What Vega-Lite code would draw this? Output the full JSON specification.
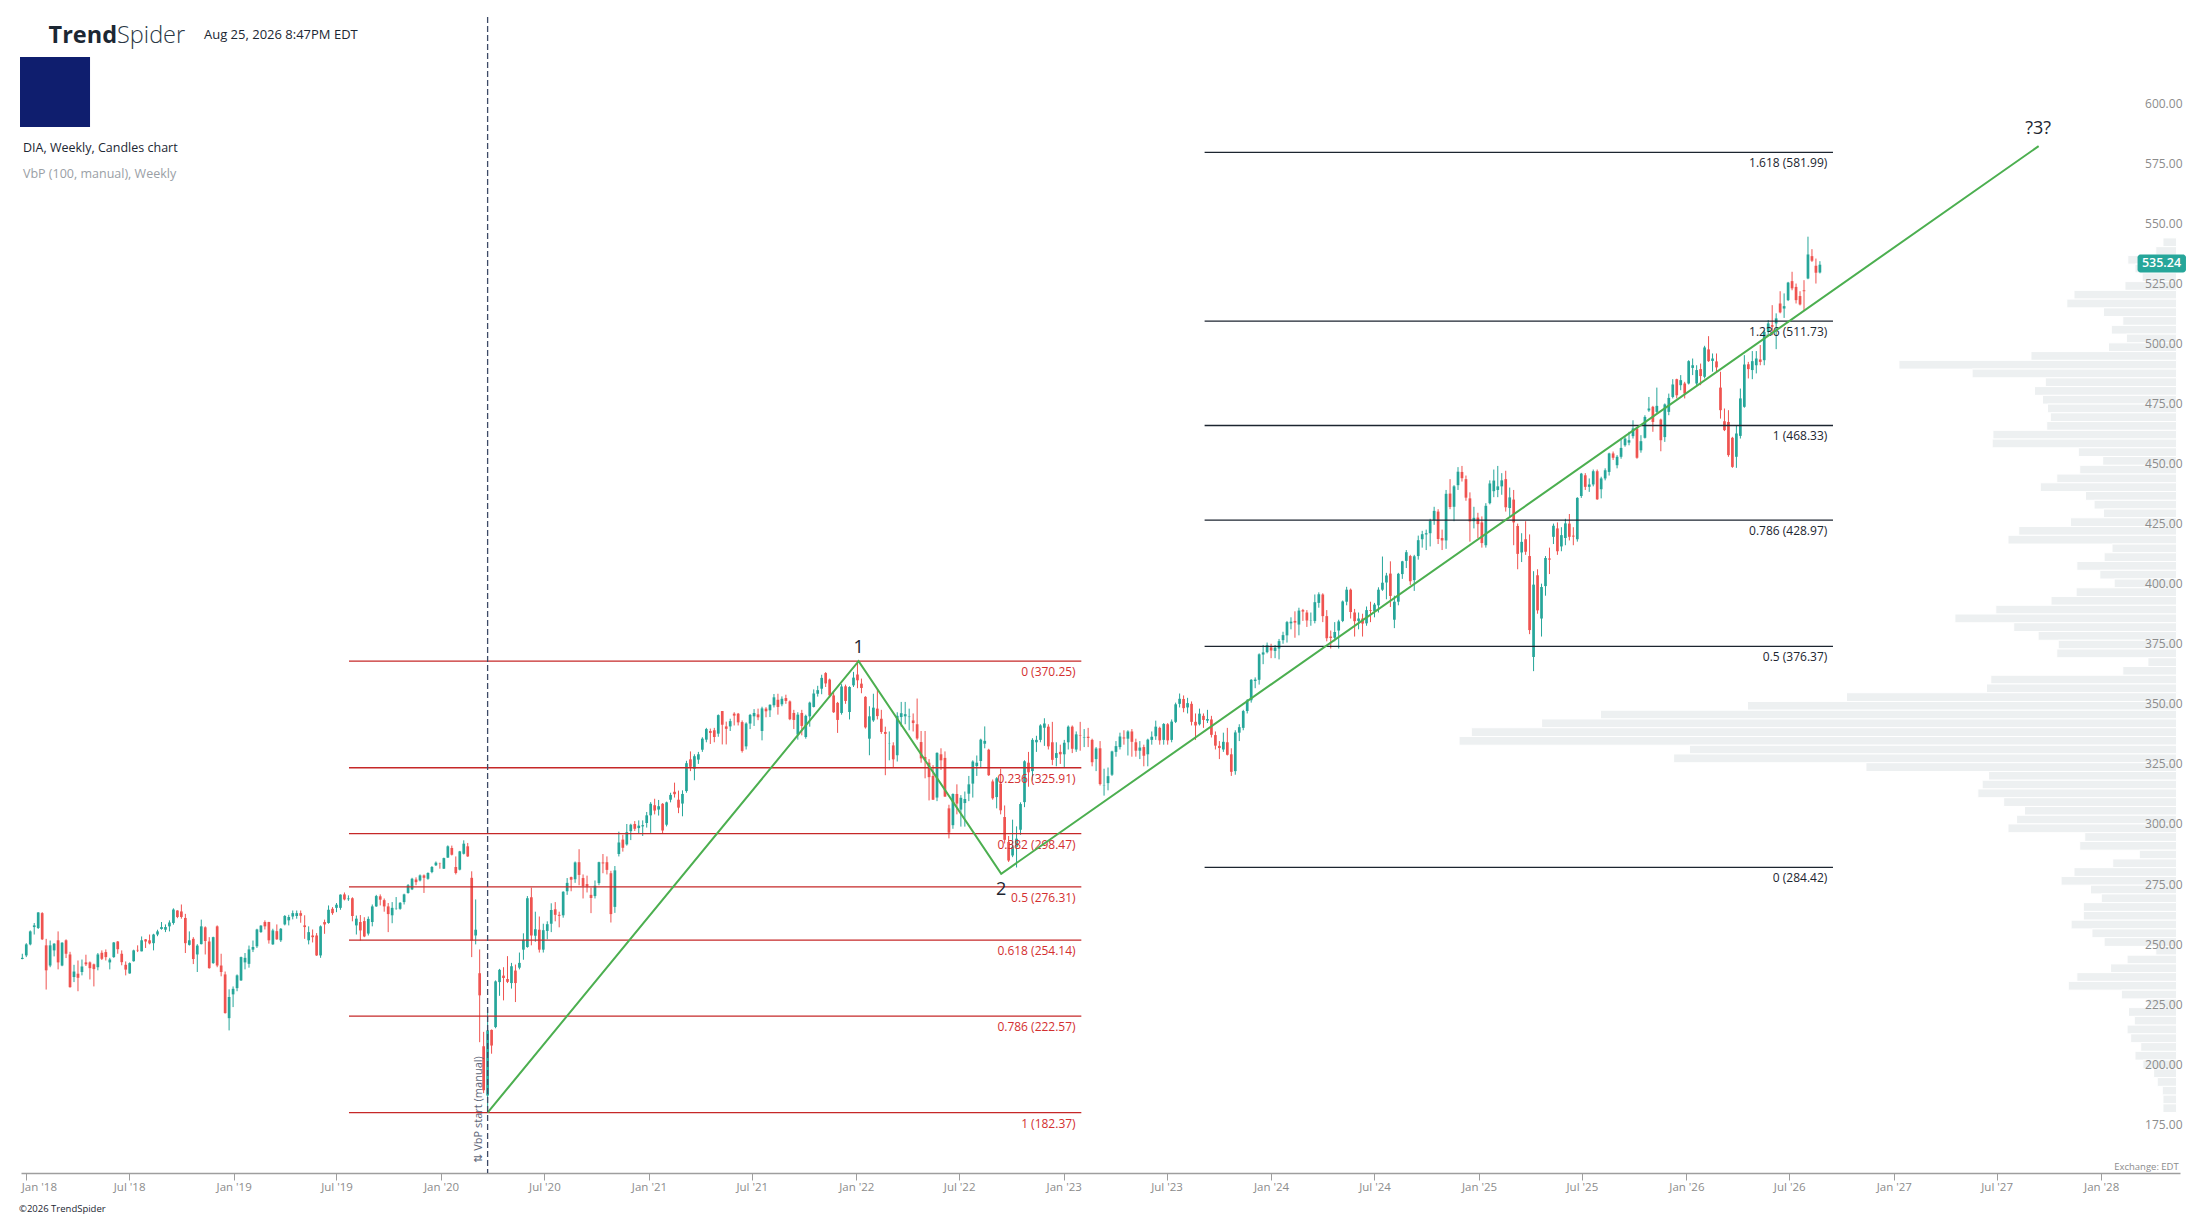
{
"$schema":"https://vega.github.io/schema/vega-lite/v6.json",
"width":2159,"height":1156,
"autosize":{"type":"none"},
"padding":{"left":21,"top":17,"right":27,"bottom":46},
"background":"white",
"config":{"view":{"stroke":null},"font":"Open Sans","scale":{"continuousPadding":0}},
"datasets":{
"candles":[
{"d":"2017-12-25","o":246.3,"h":248.5,"l":246.2,"c":246.8},
{"d":"2018-01-01","o":247.8,"h":252.9,"l":247.1,"c":252.4},
{"d":"2018-01-08","o":252.4,"h":258.2,"l":252.0,"c":257.8},
{"d":"2018-01-15","o":259.6,"h":261.3,"l":256.5,"c":260.3},
{"d":"2018-01-22","o":259.2,"h":265.8,"l":258.8,"c":265.7},
{"d":"2018-01-29","o":265.4,"h":265.8,"l":254.2,"c":254.5},
{"d":"2018-02-05","o":252.0,"h":254.7,"l":233.6,"c":241.6},
{"d":"2018-02-12","o":243.6,"h":254.0,"l":242.9,"c":252.0},
{"d":"2018-02-19","o":249.9,"h":252.9,"l":247.4,"c":252.7},
{"d":"2018-02-26","o":254.1,"h":257.8,"l":242.0,"c":244.9},
{"d":"2018-03-05","o":243.6,"h":253.3,"l":243.3,"c":253.1},
{"d":"2018-03-12","o":254.1,"h":254.5,"l":246.7,"c":248.5},
{"d":"2018-03-19","o":248.2,"h":249.3,"l":234.4,"c":234.6},
{"d":"2018-03-26","o":238.8,"h":243.9,"l":236.7,"c":241.1},
{"d":"2018-04-02","o":240.2,"h":245.7,"l":232.9,"c":238.5},
{"d":"2018-04-09","o":240.9,"h":246.1,"l":239.5,"c":243.2},
{"d":"2018-04-16","o":244.9,"h":248.1,"l":243.4,"c":244.1},
{"d":"2018-04-23","o":244.9,"h":245.3,"l":237.8,"c":242.5},
{"d":"2018-04-30","o":244.1,"h":244.4,"l":234.9,"c":242.1},
{"d":"2018-05-07","o":242.9,"h":248.8,"l":241.6,"c":248.2},
{"d":"2018-05-14","o":248.9,"h":249.9,"l":245.9,"c":246.4},
{"d":"2018-05-21","o":249.2,"h":250.3,"l":245.7,"c":247.1},
{"d":"2018-05-28","o":244.9,"h":246.8,"l":242.0,"c":246.1},
{"d":"2018-06-04","o":247.1,"h":253.4,"l":246.8,"c":253.2},
{"d":"2018-06-11","o":253.6,"h":253.8,"l":248.5,"c":250.4},
{"d":"2018-06-18","o":248.5,"h":249.9,"l":243.7,"c":245.0},
{"d":"2018-06-25","o":243.9,"h":245.3,"l":239.5,"c":241.9},
{"d":"2018-07-02","o":240.3,"h":244.9,"l":240.2,"c":244.6},
{"d":"2018-07-09","o":245.4,"h":250.2,"l":245.2,"c":249.9},
{"d":"2018-07-16","o":250.1,"h":252.0,"l":249.2,"c":249.9},
{"d":"2018-07-23","o":249.5,"h":255.7,"l":249.5,"c":254.1},
{"d":"2018-07-30","o":254.5,"h":254.6,"l":250.9,"c":253.6},
{"d":"2018-08-06","o":254.1,"h":256.5,"l":252.4,"c":252.8},
{"d":"2018-08-13","o":252.9,"h":256.8,"l":249.9,"c":256.5},
{"d":"2018-08-20","o":256.5,"h":258.5,"l":255.8,"c":257.8},
{"d":"2018-08-27","o":258.8,"h":261.7,"l":258.5,"c":259.6},
{"d":"2018-09-03","o":258.5,"h":260.7,"l":257.5,"c":259.6},
{"d":"2018-09-10","o":259.9,"h":262.4,"l":257.8,"c":261.5},
{"d":"2018-09-17","o":261.3,"h":267.4,"l":260.6,"c":266.9},
{"d":"2018-09-24","o":266.5,"h":266.6,"l":263.3,"c":263.8},
{"d":"2018-10-01","o":266.1,"h":269.0,"l":263.1,"c":263.8},
{"d":"2018-10-08","o":263.4,"h":265.1,"l":248.8,"c":252.9},
{"d":"2018-10-15","o":252.2,"h":257.8,"l":251.9,"c":254.1},
{"d":"2018-10-22","o":254.7,"h":255.4,"l":244.2,"c":246.3},
{"d":"2018-10-29","o":248.2,"h":252.5,"l":240.9,"c":251.9},
{"d":"2018-11-05","o":252.5,"h":262.7,"l":252.4,"c":259.9},
{"d":"2018-11-12","o":259.5,"h":259.9,"l":248.2,"c":253.8},
{"d":"2018-11-19","o":253.6,"h":255.4,"l":242.3,"c":242.5},
{"d":"2018-11-26","o":244.6,"h":255.6,"l":244.3,"c":255.4},
{"d":"2018-12-03","o":259.9,"h":260.3,"l":242.9,"c":243.6},
{"d":"2018-12-10","o":243.6,"h":248.5,"l":239.1,"c":240.9},
{"d":"2018-12-17","o":239.9,"h":241.1,"l":223.6,"c":223.8},
{"d":"2018-12-24","o":221.7,"h":233.7,"l":216.6,"c":230.5},
{"d":"2018-12-31","o":231.6,"h":234.9,"l":226.3,"c":233.9},
{"d":"2019-01-07","o":234.2,"h":239.9,"l":232.9,"c":239.5},
{"d":"2019-01-14","o":237.4,"h":247.3,"l":237.2,"c":247.1},
{"d":"2019-01-21","o":244.9,"h":248.8,"l":242.0,"c":246.8},
{"d":"2019-01-28","o":244.3,"h":251.9,"l":242.7,"c":250.3},
{"d":"2019-02-04","o":250.2,"h":254.0,"l":249.2,"c":251.3},
{"d":"2019-02-11","o":251.6,"h":258.9,"l":250.9,"c":258.6},
{"d":"2019-02-18","o":257.5,"h":260.4,"l":257.2,"c":260.2},
{"d":"2019-02-25","o":261.7,"h":262.4,"l":258.6,"c":259.9},
{"d":"2019-03-04","o":261.7,"h":261.8,"l":252.7,"c":254.1},
{"d":"2019-03-11","o":252.4,"h":258.9,"l":252.2,"c":258.2},
{"d":"2019-03-18","o":257.9,"h":260.7,"l":254.3,"c":254.5},
{"d":"2019-03-25","o":254.1,"h":259.2,"l":253.4,"c":258.9},
{"d":"2019-04-01","o":260.7,"h":264.6,"l":260.3,"c":264.2},
{"d":"2019-04-08","o":262.4,"h":264.7,"l":260.3,"c":263.8},
{"d":"2019-04-15","o":264.0,"h":266.5,"l":262.8,"c":265.4},
{"d":"2019-04-22","o":264.2,"h":266.5,"l":263.1,"c":265.4},
{"d":"2019-04-29","o":265.4,"h":266.5,"l":261.4,"c":264.3},
{"d":"2019-05-06","o":260.3,"h":264.5,"l":254.7,"c":259.6},
{"d":"2019-05-13","o":254.1,"h":259.9,"l":252.4,"c":257.5},
{"d":"2019-05-20","o":256.1,"h":258.6,"l":253.2,"c":255.4},
{"d":"2019-05-27","o":256.1,"h":257.1,"l":247.6,"c":247.8},
{"d":"2019-06-03","o":247.8,"h":260.3,"l":246.8,"c":259.9},
{"d":"2019-06-10","o":261.7,"h":262.7,"l":256.8,"c":260.7},
{"d":"2019-06-17","o":261.3,"h":268.6,"l":261.0,"c":266.8},
{"d":"2019-06-24","o":267.2,"h":267.9,"l":264.7,"c":265.4},
{"d":"2019-07-01","o":267.6,"h":269.6,"l":265.8,"c":268.9},
{"d":"2019-07-08","o":267.6,"h":273.2,"l":266.8,"c":273.1},
{"d":"2019-07-15","o":273.2,"h":274.0,"l":270.7,"c":271.1},
{"d":"2019-07-22","o":271.2,"h":272.8,"l":270.5,"c":271.5},
{"d":"2019-07-29","o":271.6,"h":272.0,"l":262.0,"c":264.2},
{"d":"2019-08-05","o":260.3,"h":264.4,"l":256.5,"c":263.1},
{"d":"2019-08-12","o":261.7,"h":264.6,"l":254.0,"c":258.2},
{"d":"2019-08-19","o":262.1,"h":263.7,"l":255.4,"c":255.7},
{"d":"2019-08-26","o":256.9,"h":264.0,"l":256.1,"c":263.0},
{"d":"2019-09-02","o":261.7,"h":269.0,"l":259.9,"c":268.2},
{"d":"2019-09-09","o":268.2,"h":273.0,"l":268.0,"c":272.5},
{"d":"2019-09-16","o":272.4,"h":273.2,"l":268.6,"c":271.0},
{"d":"2019-09-23","o":270.8,"h":271.5,"l":266.0,"c":268.2},
{"d":"2019-09-30","o":268.2,"h":269.6,"l":257.5,"c":265.0},
{"d":"2019-10-07","o":264.5,"h":270.0,"l":261.2,"c":267.6},
{"d":"2019-10-14","o":267.2,"h":272.1,"l":266.8,"c":267.3},
{"d":"2019-10-21","o":267.2,"h":270.0,"l":266.8,"c":269.7},
{"d":"2019-10-28","o":270.0,"h":273.5,"l":269.0,"c":273.2},
{"d":"2019-11-04","o":273.8,"h":277.5,"l":273.5,"c":277.0},
{"d":"2019-11-11","o":275.3,"h":280.1,"l":275.0,"c":279.7},
{"d":"2019-11-18","o":279.4,"h":280.3,"l":277.0,"c":278.3},
{"d":"2019-11-25","o":279.0,"h":281.5,"l":278.6,"c":281.1},
{"d":"2019-12-02","o":281.1,"h":281.5,"l":273.8,"c":280.1},
{"d":"2019-12-09","o":279.7,"h":282.4,"l":279.3,"c":282.1},
{"d":"2019-12-16","o":282.5,"h":285.0,"l":282.0,"c":284.6},
{"d":"2019-12-23","o":285.3,"h":286.9,"l":285.0,"c":286.4},
{"d":"2019-12-30","o":286.2,"h":286.4,"l":283.9,"c":286.1},
{"d":"2020-01-06","o":283.9,"h":288.5,"l":283.8,"c":288.3},
{"d":"2020-01-13","o":288.5,"h":293.6,"l":288.4,"c":293.2},
{"d":"2020-01-20","o":292.5,"h":293.5,"l":289.4,"c":289.7},
{"d":"2020-01-27","o":284.6,"h":289.0,"l":281.5,"c":282.1},
{"d":"2020-02-03","o":283.5,"h":291.3,"l":283.2,"c":291.1},
{"d":"2020-02-10","o":290.1,"h":295.7,"l":289.8,"c":294.3},
{"d":"2020-02-17","o":293.2,"h":294.6,"l":288.8,"c":289.0},
{"d":"2020-02-24","o":280.1,"h":282.8,"l":247.1,"c":254.0},
{"d":"2020-03-02","o":256.1,"h":271.1,"l":252.4,"c":258.5},
{"d":"2020-03-09","o":240.4,"h":250.3,"l":211.7,"c":231.2},
{"d":"2020-03-16","o":210.0,"h":216.0,"l":190.5,"c":191.7},
{"d":"2020-03-23","o":189.5,"h":225.6,"l":182.37,"c":216.6},
{"d":"2020-03-30","o":216.8,"h":217.0,"l":206.9,"c":210.3},
{"d":"2020-04-06","o":218.0,"h":237.4,"l":217.5,"c":237.0},
{"d":"2020-04-13","o":236.7,"h":242.2,"l":231.0,"c":241.8},
{"d":"2020-04-20","o":239.4,"h":242.9,"l":229.1,"c":238.4},
{"d":"2020-04-27","o":238.0,"h":247.5,"l":236.3,"c":236.8},
{"d":"2020-05-04","o":236.3,"h":244.7,"l":234.0,"c":243.3},
{"d":"2020-05-11","o":241.5,"h":244.0,"l":228.4,"c":236.3},
{"d":"2020-05-18","o":242.7,"h":249.0,"l":242.0,"c":244.7},
{"d":"2020-05-25","o":250.2,"h":257.0,"l":246.0,"c":254.3},
{"d":"2020-06-01","o":251.3,"h":272.5,"l":251.0,"c":271.6},
{"d":"2020-06-08","o":272.0,"h":276.0,"l":252.0,"c":256.1},
{"d":"2020-06-15","o":256.0,"h":266.0,"l":253.5,"c":258.7},
{"d":"2020-06-22","o":258.5,"h":264.0,"l":249.0,"c":250.2},
{"d":"2020-06-29","o":250.2,"h":261.0,"l":249.0,"c":258.3},
{"d":"2020-07-06","o":258.0,"h":262.0,"l":254.5,"c":260.8},
{"d":"2020-07-13","o":261.0,"h":269.5,"l":257.5,"c":266.7},
{"d":"2020-07-20","o":267.0,"h":270.0,"l":262.0,"c":264.7},
{"d":"2020-07-27","o":264.7,"h":266.0,"l":259.5,"c":264.3},
{"d":"2020-08-03","o":264.5,"h":274.5,"l":263.5,"c":274.3},
{"d":"2020-08-10","o":274.5,"h":280.0,"l":273.0,"c":278.0},
{"d":"2020-08-17","o":280.4,"h":280.6,"l":274.5,"c":279.3},
{"d":"2020-08-24","o":279.5,"h":286.9,"l":278.0,"c":286.5},
{"d":"2020-08-31","o":286.6,"h":292.0,"l":277.0,"c":281.3},
{"d":"2020-09-07","o":280.0,"h":281.5,"l":271.5,"c":276.7},
{"d":"2020-09-14","o":277.5,"h":281.0,"l":274.0,"c":276.6},
{"d":"2020-09-21","o":273.0,"h":276.0,"l":265.4,"c":271.7},
{"d":"2020-09-28","o":272.5,"h":279.0,"l":271.5,"c":276.8},
{"d":"2020-10-05","o":277.9,"h":286.8,"l":277.0,"c":286.6},
{"d":"2020-10-12","o":286.5,"h":290.0,"l":282.0,"c":286.1},
{"d":"2020-10-19","o":286.6,"h":289.0,"l":281.5,"c":283.4},
{"d":"2020-10-26","o":282.0,"h":283.0,"l":261.5,"c":265.0},
{"d":"2020-11-02","o":268.0,"h":285.0,"l":265.5,"c":283.2},
{"d":"2020-11-09","o":290.0,"h":299.3,"l":289.0,"c":294.8},
{"d":"2020-11-16","o":296.0,"h":298.0,"l":291.0,"c":292.6},
{"d":"2020-11-23","o":294.0,"h":302.5,"l":293.5,"c":299.1},
{"d":"2020-11-30","o":299.5,"h":302.6,"l":295.8,"c":302.2},
{"d":"2020-12-07","o":302.5,"h":303.7,"l":299.6,"c":300.5},
{"d":"2020-12-14","o":300.8,"h":304.0,"l":298.5,"c":301.8},
{"d":"2020-12-21","o":301.5,"h":304.0,"l":297.5,"c":302.0},
{"d":"2020-12-28","o":302.9,"h":307.5,"l":301.0,"c":306.1},
{"d":"2021-01-04","o":306.1,"h":311.6,"l":298.8,"c":310.9},
{"d":"2021-01-11","o":310.3,"h":313.0,"l":306.5,"c":308.1},
{"d":"2021-01-18","o":308.5,"h":312.5,"l":306.0,"c":309.9},
{"d":"2021-01-25","o":310.9,"h":311.2,"l":298.7,"c":299.8},
{"d":"2021-02-01","o":302.2,"h":311.8,"l":301.5,"c":311.5},
{"d":"2021-02-08","o":312.6,"h":315.5,"l":311.5,"c":314.6},
{"d":"2021-02-15","o":315.9,"h":319.7,"l":313.5,"c":314.9},
{"d":"2021-02-22","o":312.6,"h":316.4,"l":307.0,"c":309.3},
{"d":"2021-03-01","o":311.0,"h":316.5,"l":305.7,"c":315.0},
{"d":"2021-03-08","o":316.2,"h":328.8,"l":315.5,"c":327.8},
{"d":"2021-03-15","o":329.4,"h":332.7,"l":324.5,"c":326.3},
{"d":"2021-03-22","o":325.5,"h":331.5,"l":320.7,"c":330.7},
{"d":"2021-03-29","o":329.3,"h":332.5,"l":327.5,"c":331.5},
{"d":"2021-04-05","o":333.4,"h":338.6,"l":332.5,"c":338.0},
{"d":"2021-04-12","o":337.6,"h":342.5,"l":336.5,"c":342.0},
{"d":"2021-04-19","o":341.2,"h":342.2,"l":335.8,"c":340.4},
{"d":"2021-04-26","o":341.5,"h":342.5,"l":336.5,"c":338.7},
{"d":"2021-05-03","o":340.1,"h":348.1,"l":338.8,"c":347.8},
{"d":"2021-05-10","o":349.5,"h":349.5,"l":335.6,"c":343.8},
{"d":"2021-05-17","o":343.1,"h":345.1,"l":335.6,"c":342.1},
{"d":"2021-05-24","o":343.1,"h":346.3,"l":341.2,"c":345.3},
{"d":"2021-05-31","o":348.4,"h":349.0,"l":343.5,"c":347.6},
{"d":"2021-06-07","o":348.4,"h":348.7,"l":343.5,"c":344.8},
{"d":"2021-06-14","o":344.9,"h":345.6,"l":332.2,"c":332.9},
{"d":"2021-06-21","o":334.8,"h":344.8,"l":333.5,"c":344.3},
{"d":"2021-06-28","o":344.3,"h":348.3,"l":342.0,"c":347.9},
{"d":"2021-07-05","o":347.3,"h":350.3,"l":343.3,"c":348.7},
{"d":"2021-07-12","o":348.1,"h":350.5,"l":345.7,"c":346.9},
{"d":"2021-07-19","o":341.2,"h":351.3,"l":337.3,"c":350.6},
{"d":"2021-07-26","o":350.5,"h":351.1,"l":346.9,"c":349.4},
{"d":"2021-08-02","o":349.8,"h":352.3,"l":347.0,"c":352.1},
{"d":"2021-08-09","o":351.9,"h":356.6,"l":351.0,"c":355.2},
{"d":"2021-08-16","o":354.2,"h":356.7,"l":348.0,"c":351.2},
{"d":"2021-08-23","o":352.3,"h":355.6,"l":351.5,"c":354.6},
{"d":"2021-08-30","o":354.9,"h":356.3,"l":352.5,"c":353.7},
{"d":"2021-09-06","o":353.5,"h":353.9,"l":345.7,"c":346.1},
{"d":"2021-09-13","o":348.7,"h":350.0,"l":342.0,"c":345.8},
{"d":"2021-09-20","o":339.7,"h":349.0,"l":337.6,"c":348.0},
{"d":"2021-09-27","o":348.7,"h":350.0,"l":339.4,"c":343.3},
{"d":"2021-10-04","o":338.7,"h":348.0,"l":338.0,"c":347.5},
{"d":"2021-10-11","o":347.3,"h":353.4,"l":343.0,"c":353.0},
{"d":"2021-10-18","o":351.2,"h":358.5,"l":351.0,"c":356.8},
{"d":"2021-10-25","o":356.7,"h":360.0,"l":355.5,"c":358.2},
{"d":"2021-11-01","o":358.8,"h":364.6,"l":356.5,"c":363.3},
{"d":"2021-11-08","o":365.3,"h":365.7,"l":359.5,"c":361.0},
{"d":"2021-11-15","o":362.6,"h":363.0,"l":355.0,"c":356.0},
{"d":"2021-11-22","o":356.0,"h":357.4,"l":348.7,"c":349.0},
{"d":"2021-11-29","o":352.9,"h":353.3,"l":340.4,"c":345.8},
{"d":"2021-12-06","o":348.7,"h":360.7,"l":348.0,"c":359.7},
{"d":"2021-12-13","o":359.8,"h":360.5,"l":352.5,"c":353.7},
{"d":"2021-12-20","o":349.1,"h":359.8,"l":346.0,"c":359.5},
{"d":"2021-12-27","o":360.2,"h":365.8,"l":359.5,"c":363.4},
{"d":"2022-01-03","o":364.7,"h":370.25,"l":359.0,"c":362.3},
{"d":"2022-01-10","o":360.9,"h":363.0,"l":356.9,"c":359.1},
{"d":"2022-01-17","o":355.4,"h":355.7,"l":342.2,"c":342.7},
{"d":"2022-01-24","o":338.0,"h":351.5,"l":331.1,"c":347.3},
{"d":"2022-01-31","o":345.6,"h":356.7,"l":345.0,"c":350.9},
{"d":"2022-02-07","o":350.5,"h":358.5,"l":346.0,"c":347.4},
{"d":"2022-02-14","o":346.3,"h":350.0,"l":340.0,"c":340.8},
{"d":"2022-02-21","o":340.8,"h":343.0,"l":322.8,"c":340.0},
{"d":"2022-02-28","o":336.0,"h":341.0,"l":329.0,"c":336.1},
{"d":"2022-03-07","o":335.2,"h":336.5,"l":326.2,"c":329.4},
{"d":"2022-03-14","o":331.1,"h":349.0,"l":328.5,"c":347.5},
{"d":"2022-03-21","o":347.0,"h":353.3,"l":343.0,"c":348.6},
{"d":"2022-03-28","o":347.3,"h":353.3,"l":344.0,"c":348.2},
{"d":"2022-04-04","o":347.0,"h":350.5,"l":341.5,"c":347.2},
{"d":"2022-04-11","o":345.6,"h":348.5,"l":341.0,"c":344.5},
{"d":"2022-04-18","o":344.0,"h":354.7,"l":337.5,"c":338.1},
{"d":"2022-04-25","o":336.6,"h":341.2,"l":328.0,"c":329.8},
{"d":"2022-05-02","o":330.4,"h":341.2,"l":321.5,"c":329.0},
{"d":"2022-05-09","o":328.0,"h":329.5,"l":312.3,"c":322.0},
{"d":"2022-05-16","o":322.5,"h":327.0,"l":312.5,"c":312.6},
{"d":"2022-05-23","o":313.5,"h":332.3,"l":312.0,"c":332.1},
{"d":"2022-05-30","o":331.5,"h":334.0,"l":325.0,"c":329.0},
{"d":"2022-06-06","o":330.0,"h":332.7,"l":313.8,"c":313.9},
{"d":"2022-06-13","o":309.0,"h":310.5,"l":296.5,"c":298.9},
{"d":"2022-06-20","o":302.0,"h":315.2,"l":300.5,"c":315.0},
{"d":"2022-06-27","o":315.0,"h":319.0,"l":306.5,"c":311.0},
{"d":"2022-07-04","o":308.5,"h":314.5,"l":301.4,"c":313.4},
{"d":"2022-07-11","o":311.2,"h":316.0,"l":301.4,"c":312.9},
{"d":"2022-07-18","o":315.1,"h":322.5,"l":312.0,"c":319.0},
{"d":"2022-07-25","o":319.3,"h":329.0,"l":313.5,"c":328.5},
{"d":"2022-08-01","o":326.6,"h":331.0,"l":322.5,"c":328.0},
{"d":"2022-08-08","o":328.7,"h":338.0,"l":326.0,"c":337.6},
{"d":"2022-08-15","o":335.9,"h":343.1,"l":334.0,"c":337.1},
{"d":"2022-08-22","o":333.4,"h":333.8,"l":322.5,"c":322.8},
{"d":"2022-08-29","o":320.2,"h":321.0,"l":312.6,"c":313.2},
{"d":"2022-09-05","o":313.7,"h":322.0,"l":309.0,"c":321.5},
{"d":"2022-09-12","o":319.3,"h":325.5,"l":306.5,"c":308.2},
{"d":"2022-09-19","o":305.4,"h":310.2,"l":294.4,"c":295.9},
{"d":"2022-09-26","o":295.0,"h":297.5,"l":286.7,"c":287.3},
{"d":"2022-10-03","o":289.4,"h":304.3,"l":288.7,"c":293.0},
{"d":"2022-10-10","o":293.0,"h":301.5,"l":284.4,"c":296.4},
{"d":"2022-10-17","o":300.1,"h":311.5,"l":298.0,"c":310.8},
{"d":"2022-10-24","o":311.6,"h":329.0,"l":309.5,"c":328.6},
{"d":"2022-10-31","o":328.0,"h":332.5,"l":318.0,"c":324.0},
{"d":"2022-11-07","o":324.5,"h":338.2,"l":320.5,"c":337.5},
{"d":"2022-11-14","o":336.5,"h":339.2,"l":332.5,"c":337.5},
{"d":"2022-11-21","o":337.5,"h":344.0,"l":336.5,"c":343.5},
{"d":"2022-11-28","o":342.5,"h":346.5,"l":335.0,"c":344.3},
{"d":"2022-12-05","o":343.0,"h":344.0,"l":333.5,"c":334.8},
{"d":"2022-12-12","o":336.5,"h":345.0,"l":327.0,"c":329.2},
{"d":"2022-12-19","o":330.0,"h":336.5,"l":326.5,"c":332.0},
{"d":"2022-12-26","o":332.5,"h":335.5,"l":327.5,"c":331.5},
{"d":"2023-01-02","o":331.5,"h":337.5,"l":326.0,"c":336.3},
{"d":"2023-01-09","o":336.5,"h":343.5,"l":333.5,"c":343.0},
{"d":"2023-01-16","o":343.0,"h":343.5,"l":332.0,"c":333.8},
{"d":"2023-01-23","o":333.5,"h":341.0,"l":332.5,"c":339.8},
{"d":"2023-01-30","o":339.5,"h":345.0,"l":333.0,"c":339.3},
{"d":"2023-02-06","o":338.5,"h":342.0,"l":334.5,"c":338.7},
{"d":"2023-02-13","o":338.8,"h":342.5,"l":334.5,"c":338.3},
{"d":"2023-02-20","o":337.5,"h":338.0,"l":326.5,"c":328.2},
{"d":"2023-02-27","o":329.5,"h":334.5,"l":324.5,"c":333.9},
{"d":"2023-03-06","o":334.0,"h":337.0,"l":318.5,"c":319.1},
{"d":"2023-03-13","o":318.5,"h":325.5,"l":314.3,"c":318.6},
{"d":"2023-03-20","o":319.5,"h":326.0,"l":316.5,"c":322.4},
{"d":"2023-03-27","o":323.0,"h":333.0,"l":322.5,"c":332.7},
{"d":"2023-04-03","o":332.5,"h":337.0,"l":330.5,"c":334.9},
{"d":"2023-04-10","o":334.5,"h":340.5,"l":333.5,"c":338.9},
{"d":"2023-04-17","o":338.5,"h":341.5,"l":335.5,"c":338.1},
{"d":"2023-04-24","o":338.0,"h":341.5,"l":331.0,"c":341.0},
{"d":"2023-05-01","o":341.0,"h":342.0,"l":330.5,"c":336.7},
{"d":"2023-05-08","o":336.5,"h":338.0,"l":330.5,"c":333.0},
{"d":"2023-05-15","o":333.0,"h":337.0,"l":329.5,"c":334.3},
{"d":"2023-05-22","o":334.5,"h":335.5,"l":326.5,"c":330.9},
{"d":"2023-05-29","o":331.5,"h":338.0,"l":326.5,"c":337.6},
{"d":"2023-06-05","o":337.5,"h":341.0,"l":335.5,"c":338.8},
{"d":"2023-06-12","o":339.0,"h":345.5,"l":337.5,"c":343.0},
{"d":"2023-06-19","o":342.5,"h":343.0,"l":335.5,"c":337.3},
{"d":"2023-06-26","o":337.5,"h":344.5,"l":335.5,"c":344.1},
{"d":"2023-07-03","o":344.0,"h":344.5,"l":335.5,"c":337.3},
{"d":"2023-07-10","o":337.5,"h":346.0,"l":336.5,"c":345.1},
{"d":"2023-07-17","o":345.0,"h":353.0,"l":344.5,"c":352.3},
{"d":"2023-07-24","o":352.5,"h":356.8,"l":351.0,"c":354.6},
{"d":"2023-07-31","o":354.5,"h":356.0,"l":349.0,"c":350.7},
{"d":"2023-08-07","o":351.0,"h":355.0,"l":348.5,"c":352.8},
{"d":"2023-08-14","o":352.5,"h":353.5,"l":343.5,"c":345.0},
{"d":"2023-08-21","o":345.0,"h":348.5,"l":337.5,"c":343.5},
{"d":"2023-08-28","o":344.0,"h":350.5,"l":343.5,"c":348.4},
{"d":"2023-09-04","o":347.5,"h":348.5,"l":342.5,"c":345.8},
{"d":"2023-09-11","o":345.5,"h":350.0,"l":344.5,"c":346.2},
{"d":"2023-09-18","o":346.0,"h":347.5,"l":338.5,"c":339.6},
{"d":"2023-09-25","o":339.5,"h":341.0,"l":333.5,"c":335.1},
{"d":"2023-10-02","o":335.0,"h":337.0,"l":329.5,"c":334.1},
{"d":"2023-10-09","o":333.5,"h":340.5,"l":332.5,"c":336.7},
{"d":"2023-10-16","o":336.5,"h":342.5,"l":331.0,"c":331.3},
{"d":"2023-10-23","o":331.5,"h":334.0,"l":322.5,"c":324.2},
{"d":"2023-10-30","o":324.5,"h":341.5,"l":323.0,"c":340.6},
{"d":"2023-11-06","o":340.5,"h":344.0,"l":337.0,"c":342.8},
{"d":"2023-11-13","o":342.5,"h":350.0,"l":341.5,"c":349.5},
{"d":"2023-11-20","o":349.5,"h":354.5,"l":348.5,"c":353.9},
{"d":"2023-11-27","o":354.0,"h":362.8,"l":353.0,"c":362.5},
{"d":"2023-12-04","o":362.0,"h":363.5,"l":359.0,"c":362.6},
{"d":"2023-12-11","o":362.5,"h":373.5,"l":360.5,"c":373.1},
{"d":"2023-12-18","o":373.0,"h":377.0,"l":369.0,"c":373.9},
{"d":"2023-12-25","o":374.0,"h":378.0,"l":373.5,"c":376.9},
{"d":"2024-01-01","o":376.0,"h":377.5,"l":371.5,"c":374.7},
{"d":"2024-01-08","o":374.5,"h":377.0,"l":371.5,"c":375.9},
{"d":"2024-01-15","o":375.5,"h":379.5,"l":371.0,"c":378.6},
{"d":"2024-01-22","o":379.0,"h":382.5,"l":377.5,"c":381.1},
{"d":"2024-01-29","o":381.0,"h":387.0,"l":378.0,"c":386.5},
{"d":"2024-02-05","o":386.0,"h":388.5,"l":383.5,"c":386.7},
{"d":"2024-02-12","o":387.0,"h":391.0,"l":380.0,"c":386.3},
{"d":"2024-02-19","o":385.5,"h":392.5,"l":381.0,"c":391.3},
{"d":"2024-02-26","o":391.5,"h":392.0,"l":387.0,"c":390.9},
{"d":"2024-03-04","o":390.5,"h":391.5,"l":384.5,"c":387.2},
{"d":"2024-03-11","o":387.0,"h":390.5,"l":385.0,"c":387.1},
{"d":"2024-03-18","o":387.0,"h":398.0,"l":386.0,"c":394.8},
{"d":"2024-03-25","o":394.5,"h":398.9,"l":392.5,"c":398.1},
{"d":"2024-04-01","o":398.0,"h":398.5,"l":386.5,"c":389.0},
{"d":"2024-04-08","o":389.0,"h":391.5,"l":378.5,"c":379.8},
{"d":"2024-04-15","o":380.5,"h":383.0,"l":375.5,"c":379.9},
{"d":"2024-04-22","o":380.0,"h":386.5,"l":378.5,"c":382.4},
{"d":"2024-04-29","o":383.0,"h":387.5,"l":375.5,"c":386.8},
{"d":"2024-05-06","o":387.0,"h":395.5,"l":386.5,"c":395.1},
{"d":"2024-05-13","o":395.0,"h":401.2,"l":393.5,"c":400.0},
{"d":"2024-05-20","o":400.0,"h":400.5,"l":388.0,"c":390.7},
{"d":"2024-05-27","o":390.5,"h":392.0,"l":380.5,"c":386.9},
{"d":"2024-06-03","o":387.0,"h":390.5,"l":383.5,"c":388.0},
{"d":"2024-06-10","o":388.0,"h":390.0,"l":380.5,"c":385.9},
{"d":"2024-06-17","o":386.0,"h":393.0,"l":385.0,"c":391.5},
{"d":"2024-06-24","o":391.5,"h":395.0,"l":386.5,"c":391.2},
{"d":"2024-07-01","o":391.0,"h":394.5,"l":388.5,"c":393.8},
{"d":"2024-07-08","o":393.5,"h":401.0,"l":390.5,"c":400.0},
{"d":"2024-07-15","o":400.0,"h":413.8,"l":399.5,"c":402.9},
{"d":"2024-07-22","o":403.0,"h":407.0,"l":396.0,"c":405.9},
{"d":"2024-07-29","o":406.7,"h":411.8,"l":392.8,"c":397.4},
{"d":"2024-08-05","o":387.5,"h":397.5,"l":384.0,"c":395.0},
{"d":"2024-08-12","o":395.0,"h":407.0,"l":393.5,"c":406.6},
{"d":"2024-08-19","o":406.5,"h":412.0,"l":404.5,"c":411.8},
{"d":"2024-08-26","o":412.0,"h":416.5,"l":409.0,"c":415.6},
{"d":"2024-09-02","o":414.0,"h":414.5,"l":402.0,"c":403.5},
{"d":"2024-09-09","o":404.0,"h":414.5,"l":399.5,"c":413.9},
{"d":"2024-09-16","o":414.0,"h":422.5,"l":412.5,"c":420.6},
{"d":"2024-09-23","o":421.0,"h":424.5,"l":417.5,"c":423.1},
{"d":"2024-09-30","o":423.0,"h":425.0,"l":416.5,"c":423.5},
{"d":"2024-10-07","o":423.5,"h":429.5,"l":418.0,"c":428.6},
{"d":"2024-10-14","o":429.0,"h":434.5,"l":427.0,"c":432.8},
{"d":"2024-10-21","o":432.5,"h":433.5,"l":419.0,"c":421.1},
{"d":"2024-10-28","o":421.5,"h":425.0,"l":416.5,"c":420.5},
{"d":"2024-11-04","o":420.5,"h":441.5,"l":417.0,"c":439.9},
{"d":"2024-11-11","o":440.0,"h":446.0,"l":433.5,"c":434.4},
{"d":"2024-11-18","o":434.5,"h":443.5,"l":428.5,"c":443.0},
{"d":"2024-11-25","o":443.5,"h":451.0,"l":441.5,"c":449.1},
{"d":"2024-12-02","o":449.0,"h":451.5,"l":445.0,"c":446.4},
{"d":"2024-12-09","o":446.0,"h":447.5,"l":437.0,"c":438.3},
{"d":"2024-12-16","o":438.0,"h":440.5,"l":420.0,"c":428.4},
{"d":"2024-12-23","o":428.5,"h":434.5,"l":425.5,"c":429.9},
{"d":"2024-12-30","o":430.0,"h":432.0,"l":421.5,"c":427.3},
{"d":"2025-01-06","o":428.0,"h":430.5,"l":417.5,"c":419.4},
{"d":"2025-01-13","o":418.5,"h":436.0,"l":417.5,"c":434.9},
{"d":"2025-01-20","o":436.0,"h":445.5,"l":435.5,"c":444.2},
{"d":"2025-01-27","o":441.0,"h":450.0,"l":438.5,"c":445.4},
{"d":"2025-02-03","o":441.5,"h":451.5,"l":438.5,"c":443.0},
{"d":"2025-02-10","o":443.0,"h":448.5,"l":439.5,"c":445.5},
{"d":"2025-02-17","o":446.0,"h":449.5,"l":432.5,"c":434.3},
{"d":"2025-02-24","o":434.0,"h":442.5,"l":430.0,"c":438.4},
{"d":"2025-03-03","o":437.5,"h":441.5,"l":418.5,"c":428.0},
{"d":"2025-03-10","o":426.5,"h":427.5,"l":408.5,"c":414.9},
{"d":"2025-03-17","o":415.5,"h":423.5,"l":411.5,"c":419.9},
{"d":"2025-03-24","o":421.0,"h":428.5,"l":414.5,"c":415.8},
{"d":"2025-03-31","o":414.0,"h":423.0,"l":381.5,"c":383.2},
{"d":"2025-04-07","o":372.0,"h":407.7,"l":366.1,"c":402.1},
{"d":"2025-04-14","o":406.0,"h":408.5,"l":390.0,"c":391.4},
{"d":"2025-04-21","o":388.0,"h":402.5,"l":380.5,"c":401.1},
{"d":"2025-04-28","o":401.5,"h":414.0,"l":397.5,"c":413.2},
{"d":"2025-05-05","o":413.0,"h":417.5,"l":406.5,"c":412.5},
{"d":"2025-05-12","o":422.0,"h":427.5,"l":419.0,"c":426.6},
{"d":"2025-05-19","o":425.5,"h":428.0,"l":414.5,"c":416.0},
{"d":"2025-05-26","o":418.0,"h":426.0,"l":416.0,"c":422.7},
{"d":"2025-06-02","o":421.5,"h":429.5,"l":418.5,"c":427.6},
{"d":"2025-06-09","o":427.5,"h":431.5,"l":420.5,"c":422.0},
{"d":"2025-06-16","o":422.5,"h":426.0,"l":418.5,"c":422.1},
{"d":"2025-06-23","o":421.0,"h":438.5,"l":420.0,"c":438.2},
{"d":"2025-06-30","o":439.0,"h":448.6,"l":438.2,"c":448.3},
{"d":"2025-07-07","o":447.6,"h":448.5,"l":441.5,"c":442.8},
{"d":"2025-07-14","o":442.8,"h":446.3,"l":440.7,"c":443.8},
{"d":"2025-07-21","o":443.8,"h":450.0,"l":443.0,"c":449.3},
{"d":"2025-07-28","o":449.3,"h":450.0,"l":437.4,"c":437.6},
{"d":"2025-08-04","o":441.8,"h":447.0,"l":438.0,"c":446.3},
{"d":"2025-08-11","o":446.3,"h":450.5,"l":445.5,"c":449.7},
{"d":"2025-08-18","o":449.0,"h":457.0,"l":447.5,"c":456.7},
{"d":"2025-08-25","o":456.7,"h":457.5,"l":454.0,"c":454.9},
{"d":"2025-09-01","o":451.8,"h":456.0,"l":450.5,"c":455.3},
{"d":"2025-09-08","o":455.3,"h":462.9,"l":454.5,"c":459.0},
{"d":"2025-09-15","o":460.1,"h":463.5,"l":459.5,"c":462.9},
{"d":"2025-09-22","o":461.2,"h":465.7,"l":460.1,"c":462.2},
{"d":"2025-09-29","o":463.9,"h":470.5,"l":462.9,"c":467.1},
{"d":"2025-10-06","o":467.1,"h":467.7,"l":454.5,"c":454.9},
{"d":"2025-10-13","o":458.0,"h":464.3,"l":457.0,"c":461.8},
{"d":"2025-10-20","o":463.2,"h":472.6,"l":462.9,"c":471.9},
{"d":"2025-10-27","o":474.6,"h":480.2,"l":474.0,"c":475.4},
{"d":"2025-11-03","o":476.1,"h":476.5,"l":465.7,"c":469.8},
{"d":"2025-11-10","o":474.0,"h":484.1,"l":473.3,"c":476.5},
{"d":"2025-11-17","o":470.8,"h":471.2,"l":457.6,"c":462.2},
{"d":"2025-11-24","o":463.5,"h":477.5,"l":461.5,"c":477.1},
{"d":"2025-12-01","o":474.0,"h":481.6,"l":472.6,"c":479.8},
{"d":"2025-12-08","o":480.2,"h":487.6,"l":479.6,"c":485.4},
{"d":"2025-12-15","o":487.6,"h":487.8,"l":479.6,"c":480.9},
{"d":"2025-12-22","o":485.1,"h":489.3,"l":483.0,"c":487.2},
{"d":"2025-12-29","o":485.8,"h":486.5,"l":479.6,"c":481.6},
{"d":"2026-01-05","o":485.8,"h":495.5,"l":485.4,"c":495.1},
{"d":"2026-01-12","o":492.3,"h":496.2,"l":489.3,"c":493.4},
{"d":"2026-01-19","o":485.8,"h":493.4,"l":485.1,"c":491.4},
{"d":"2026-01-26","o":491.8,"h":494.1,"l":485.1,"c":488.9},
{"d":"2026-02-02","o":488.6,"h":501.5,"l":487.9,"c":500.8},
{"d":"2026-02-09","o":500.0,"h":505.5,"l":494.8,"c":495.1},
{"d":"2026-02-16","o":495.2,"h":498.3,"l":490.7,"c":496.2},
{"d":"2026-02-23","o":495.0,"h":498.3,"l":490.7,"c":492.5},
{"d":"2026-03-02","o":484.1,"h":490.7,"l":471.2,"c":474.7},
{"d":"2026-03-09","o":470.1,"h":475.4,"l":466.0,"c":466.4},
{"d":"2026-03-16","o":469.8,"h":474.7,"l":455.3,"c":456.0},
{"d":"2026-03-23","o":463.2,"h":463.6,"l":450.7,"c":451.1},
{"d":"2026-03-30","o":455.3,"h":468.5,"l":450.7,"c":465.0},
{"d":"2026-04-06","o":464.0,"h":483.7,"l":462.9,"c":479.6},
{"d":"2026-04-13","o":476.1,"h":497.6,"l":475.7,"c":493.7},
{"d":"2026-04-20","o":493.8,"h":494.8,"l":487.9,"c":491.8},
{"d":"2026-04-27","o":491.4,"h":499.3,"l":487.6,"c":495.1},
{"d":"2026-05-04","o":493.4,"h":499.3,"l":490.0,"c":496.2},
{"d":"2026-05-11","o":495.8,"h":501.8,"l":493.4,"c":494.8},
{"d":"2026-05-18","o":495.5,"h":508.0,"l":493.4,"c":507.3},
{"d":"2026-05-25","o":507.3,"h":512.2,"l":505.9,"c":510.8},
{"d":"2026-06-01","o":510.1,"h":518.4,"l":505.9,"c":509.4},
{"d":"2026-06-08","o":510.8,"h":515.0,"l":500.1,"c":512.9},
{"d":"2026-06-15","o":519.1,"h":524.2,"l":515.0,"c":515.4},
{"d":"2026-06-22","o":517.0,"h":523.3,"l":513.1,"c":518.0},
{"d":"2026-06-29","o":520.5,"h":528.1,"l":520.1,"c":527.8},
{"d":"2026-07-06","o":528.4,"h":532.3,"l":524.6,"c":525.4},
{"d":"2026-07-13","o":526.0,"h":527.4,"l":519.1,"c":520.5},
{"d":"2026-07-20","o":522.2,"h":524.2,"l":518.3,"c":518.7},
{"d":"2026-07-27","o":524.6,"h":528.8,"l":516.3,"c":524.2},
{"d":"2026-08-03","o":529.5,"h":546.9,"l":529.2,"c":539.5},
{"d":"2026-08-10","o":538.8,"h":541.7,"l":536.4,"c":536.9},
{"d":"2026-08-17","o":534.8,"h":537.8,"l":527.4,"c":531.9},
{"d":"2026-08-24","o":532.0,"h":536.7,"l":531.6,"c":535.24}
],
"vbp":[
{"lo":542.76,"hi":546.40,"v":1.9},{"lo":539.12,"hi":542.76,"v":2.9},{"lo":535.48,"hi":539.12,"v":6.8},{"lo":531.84,"hi":535.48,"v":5.8},{"lo":528.20,"hi":531.84,"v":4.8},
{"lo":524.56,"hi":528.20,"v":7.2},{"lo":520.92,"hi":524.56,"v":14.3},{"lo":517.28,"hi":520.92,"v":15.3},{"lo":513.64,"hi":517.28,"v":10.2},{"lo":510.00,"hi":513.64,"v":7.5},
{"lo":506.36,"hi":510.00,"v":9.1},{"lo":502.72,"hi":506.36,"v":7.0},{"lo":499.08,"hi":502.72,"v":9.5},{"lo":495.44,"hi":499.08,"v":20.3},{"lo":491.80,"hi":495.44,"v":38.7},
{"lo":488.16,"hi":491.80,"v":28.5},{"lo":484.52,"hi":488.16,"v":18.3},{"lo":480.88,"hi":484.52,"v":19.8},{"lo":477.24,"hi":480.88,"v":18.7},{"lo":473.60,"hi":477.24,"v":18.0},
{"lo":469.96,"hi":473.60,"v":17.6},{"lo":466.32,"hi":469.96,"v":18.1},{"lo":462.68,"hi":466.32,"v":25.6},{"lo":459.04,"hi":462.68,"v":25.7},{"lo":455.40,"hi":459.04,"v":13.7},
{"lo":451.76,"hi":455.40,"v":10.3},{"lo":448.12,"hi":451.76,"v":13.5},{"lo":444.48,"hi":448.12,"v":16.7},{"lo":440.84,"hi":444.48,"v":19.0},{"lo":437.20,"hi":440.84,"v":12.7},
{"lo":433.56,"hi":437.20,"v":11.5},{"lo":429.92,"hi":433.56,"v":10.2},{"lo":426.28,"hi":429.92,"v":14.8},{"lo":422.64,"hi":426.28,"v":22.0},{"lo":419.00,"hi":422.64,"v":23.5},
{"lo":415.36,"hi":419.00,"v":9.0},{"lo":411.72,"hi":415.36,"v":10.1},{"lo":408.08,"hi":411.72,"v":13.9},{"lo":404.44,"hi":408.08,"v":10.7},{"lo":400.80,"hi":404.44,"v":8.7},
{"lo":397.16,"hi":400.80,"v":14.0},{"lo":393.52,"hi":397.16,"v":17.5},{"lo":389.88,"hi":393.52,"v":25.2},{"lo":386.24,"hi":389.88,"v":30.9},{"lo":382.60,"hi":386.24,"v":22.7},
{"lo":378.96,"hi":382.60,"v":19.3},{"lo":375.32,"hi":378.96,"v":16.5},{"lo":371.68,"hi":375.32,"v":16.7},{"lo":368.04,"hi":371.68,"v":4.0},{"lo":364.40,"hi":368.04,"v":7.5},
{"lo":360.76,"hi":364.40,"v":25.9},{"lo":357.12,"hi":360.76,"v":26.5},{"lo":353.48,"hi":357.12,"v":46.0},{"lo":349.84,"hi":353.48,"v":59.8},{"lo":346.20,"hi":349.84,"v":80.3},
{"lo":342.56,"hi":346.20,"v":88.5},{"lo":338.92,"hi":342.56,"v":98.3},{"lo":335.28,"hi":338.92,"v":100},{"lo":331.64,"hi":335.28,"v":67.9},{"lo":328.00,"hi":331.64,"v":70.1},
{"lo":324.36,"hi":328.00,"v":43.3},{"lo":320.72,"hi":324.36,"v":26.2},{"lo":317.08,"hi":320.72,"v":27.1},{"lo":313.44,"hi":317.08,"v":27.7},{"lo":309.80,"hi":313.44,"v":24.1},
{"lo":306.16,"hi":309.80,"v":21.2},{"lo":302.52,"hi":306.16,"v":22.3},{"lo":298.88,"hi":302.52,"v":23.5},{"lo":295.24,"hi":298.88,"v":12.8},{"lo":291.60,"hi":295.24,"v":13.5},
{"lo":287.96,"hi":291.60,"v":5.2},{"lo":284.32,"hi":287.96,"v":8.9},{"lo":280.68,"hi":284.32,"v":14.3},{"lo":277.04,"hi":280.68,"v":16.1},{"lo":273.40,"hi":277.04,"v":12.0},
{"lo":269.76,"hi":273.40,"v":10.5},{"lo":266.12,"hi":269.76,"v":13.0},{"lo":262.48,"hi":266.12,"v":13.0},{"lo":258.84,"hi":262.48,"v":14.7},{"lo":255.20,"hi":258.84,"v":11.8},
{"lo":251.56,"hi":255.20,"v":10.1},{"lo":247.92,"hi":251.56,"v":2.9},{"lo":244.28,"hi":247.92,"v":6.9},{"lo":240.64,"hi":244.28,"v":9.2},{"lo":237.00,"hi":240.64,"v":13.9},
{"lo":233.36,"hi":237.00,"v":15.1},{"lo":229.72,"hi":233.36,"v":7.7},{"lo":226.08,"hi":229.72,"v":4.1},{"lo":222.44,"hi":226.08,"v":6.7},{"lo":218.80,"hi":222.44,"v":5.9},
{"lo":215.16,"hi":218.80,"v":6.9},{"lo":211.52,"hi":215.16,"v":6.4},{"lo":207.88,"hi":211.52,"v":5.0},{"lo":204.24,"hi":207.88,"v":5.8},{"lo":200.60,"hi":204.24,"v":4.7},
{"lo":196.96,"hi":200.60,"v":3.2},{"lo":193.32,"hi":196.96,"v":2.7},{"lo":189.68,"hi":193.32,"v":2.0},{"lo":186.04,"hi":189.68,"v":1.9},{"lo":182.40,"hi":186.04,"v":1.9}
],
"fibR":[
{"t":"0 (370.25)","p":370.25},{"t":"0.236 (325.91)","p":325.91},{"t":"0.382 (298.47)","p":298.47},{"t":"0.5 (276.31)","p":276.31},{"t":"0.618 (254.14)","p":254.14},{"t":"0.786 (222.57)","p":222.57},{"t":"1 (182.37)","p":182.37}
],
"fibB":[
{"t":"0 (284.42)","p":284.42},{"t":"0.5 (376.37)","p":376.37},{"t":"0.786 (428.97)","p":428.97},{"t":"1 (468.33)","p":468.33},{"t":"1.236 (511.73)","p":511.73},{"t":"1.618 (581.99)","p":581.99}
],
"wave":[
{"d":"2020-03-23","p":182.37},{"d":"2022-01-05","p":370.25},{"d":"2022-09-13","p":281.8},{"d":"2027-09-13","p":584.6}
],
"waveLab":[
{"d":"2022-01-05","p":375.9,"t":"1"},{"d":"2022-09-13","p":275.1,"t":"2"},{"d":"2027-09-12","p":591.6,"t":"?3?"}
]
},
"layer":[
{
"data":{"name":"vbp"},
"mark":{"type":"rect","fill":"#edf0f1","stroke":"white","strokeWidth":1},
"encoding":{
"x":{"field":"v","type":"quantitative","scale":{"domain":[0,100],"range":[2155.6,1438.1]},"axis":null},
"x2":{"datum":0},
"y":{"field":"lo","type":"quantitative","scale":{"domain":[157.26,638.32],"nice":false,"zero":false,"padding":0},
"axis":{"orient":"right","title":null,"domain":false,"ticks":false,"grid":false,"values":[175,200,225,250,275,300,325,350,375,400,425,450,475,500,525,550,575,600],"format":".2f","labelAlign":"right","labelBaseline":"middle","labelPadding":2,"labelOffset":-6,"labelColor":"#8c8c8c","labelFont":"Open Sans","labelFontSize":12,"zindex":1}},
"y2":{"field":"hi"}
}
},
{
"layer":[
{
"data":{"name":"candles"},
"mark":{"type":"rule","strokeWidth":1},
"encoding":{
"x":{"field":"d","type":"temporal",
"scale":{"type":"utc","padding":0,"domain":[{"year":2017,"month":12,"date":22,"hours":17,"utc":true},{"year":2028,"month":5,"date":18,"hours":19,"utc":true}]},
"axis":{"title":null,"grid":false,
"values":[{"year":2018,"month":1,"date":1,"utc":true},{"year":2018,"month":7,"date":1,"utc":true},{"year":2019,"month":1,"date":1,"utc":true},{"year":2019,"month":7,"date":1,"utc":true},{"year":2020,"month":1,"date":1,"utc":true},{"year":2020,"month":7,"date":1,"utc":true},{"year":2021,"month":1,"date":1,"utc":true},{"year":2021,"month":7,"date":1,"utc":true},{"year":2022,"month":1,"date":1,"utc":true},{"year":2022,"month":7,"date":1,"utc":true},{"year":2023,"month":1,"date":1,"utc":true},{"year":2023,"month":7,"date":1,"utc":true},{"year":2024,"month":1,"date":1,"utc":true},{"year":2024,"month":7,"date":1,"utc":true},{"year":2025,"month":1,"date":1,"utc":true},{"year":2025,"month":7,"date":1,"utc":true},{"year":2026,"month":1,"date":1,"utc":true},{"year":2026,"month":7,"date":1,"utc":true},{"year":2027,"month":1,"date":1,"utc":true},{"year":2027,"month":7,"date":1,"utc":true},{"year":2028,"month":1,"date":1,"utc":true}],
"labelExpr":"utcFormat(datum.value, \"%b '%y\")",
"domainColor":"#9e9e9e","domainWidth":1.5,"tickColor":"#9e9e9e","tickSize":7,"labelColor":"#8c8c8c","labelFont":"Open Sans","labelFontSize":11.5,"labelPadding":1,"labelFlush":12,"labelFlushOffset":5,"labelOverlap":false}},
"y":{"field":"l","type":"quantitative","scale":{"domain":[157.26,638.32],"nice":false,"zero":false,"padding":0}},
"y2":{"field":"h"},
"color":{"condition":{"test":"datum.c >= datum.o","value":"#26a69a"},"value":"#ef5350"}
}
},
{
"data":{"name":"candles"},
"mark":{"type":"bar","size":2.7},
"encoding":{
"x":{"field":"d","type":"temporal"},
"y":{"field":"o","type":"quantitative"},
"y2":{"field":"c"},
"color":{"condition":{"test":"datum.c >= datum.o","value":"#26a69a"},"value":"#ef5350"}
}
},
{
"data":{"name":"fibR"},
"mark":{"type":"rule","color":"#c62828","strokeWidth":1.3},
"encoding":{
"x":{"datum":{"year":2019,"month":7,"date":23,"utc":true},"type":"temporal"},
"x2":{"datum":{"year":2023,"month":2,"date":1,"utc":true}},
"y":{"field":"p","type":"quantitative"}
}
},
{
"data":{"name":"fibR"},
"mark":{"type":"text","color":"#d32f2f","font":"Open Sans","fontSize":12,"align":"right","baseline":"middle","dy":11},
"encoding":{
"x":{"datum":{"year":2023,"month":1,"date":22,"utc":true},"type":"temporal"},
"y":{"field":"p","type":"quantitative"},
"text":{"field":"t"}
}
},
{
"data":{"name":"fibB"},
"mark":{"type":"rule","color":"#1c2530","strokeWidth":1.3},
"encoding":{
"x":{"datum":{"year":2023,"month":9,"date":6,"utc":true},"type":"temporal"},
"x2":{"datum":{"year":2026,"month":9,"date":16,"utc":true}},
"y":{"field":"p","type":"quantitative"}
}
},
{
"data":{"name":"fibB"},
"mark":{"type":"text","color":"#1c2530","font":"Open Sans","fontSize":12,"align":"right","baseline":"middle","dy":11},
"encoding":{
"x":{"datum":{"year":2026,"month":9,"date":6,"utc":true},"type":"temporal"},
"y":{"field":"p","type":"quantitative"},
"text":{"field":"t"}
}
},
{
"data":{"name":"wave"},
"mark":{"type":"line","color":"#4caf50","strokeWidth":2},
"encoding":{
"x":{"field":"d","type":"temporal"},
"y":{"field":"p","type":"quantitative"}
}
},
{
"data":{"name":"waveLab"},
"mark":{"type":"text","color":"#1c2530","font":"Open Sans","fontSize":18,"align":"center","baseline":"middle"},
"encoding":{
"x":{"field":"d","type":"temporal"},
"y":{"field":"p","type":"quantitative"},
"text":{"field":"t"}
}
},
{
"data":{"values":[{}]},
"mark":{"type":"rule","color":"#3d4a66","strokeWidth":1.3,"strokeDash":[6,3]},
"encoding":{
"x":{"datum":{"year":2020,"month":3,"date":23,"utc":true},"type":"temporal"}
}
},
{
"data":{"values":[{}]},
"mark":{"type":"text","text":"⇅ VbP start (manual)","angle":270,"color":"#5b6476","font":"Open Sans","fontSize":11,"align":"left","baseline":"middle"},
"encoding":{
"x":{"datum":{"year":2020,"month":3,"date":8,"hours":17,"utc":true},"type":"temporal"},
"y":{"datum":161.6,"type":"quantitative"}
}
},
{
"data":{"values":[{}]},
"mark":{"type":"rect","fill":"#0f1e6e"},
"encoding":{
"x":{"datum":{"year":2017,"month":12,"date":20,"hours":23,"utc":true},"type":"temporal"},
"x2":{"datum":{"year":2018,"month":4,"date":23,"hours":5,"utc":true}},
"y":{"datum":621.66,"type":"quantitative"},
"y2":{"datum":592.52}
}
},
{
"data":{"values":[{}]},
"mark":{"type":"text","text":"Trend","color":"#1c2733","font":"Open Sans","fontSize":23.5,"fontWeight":"bold","align":"right","baseline":"alphabetic"},
"encoding":{
"x":{"datum":{"year":2018,"month":6,"date":9,"hours":17,"utc":true},"type":"temporal"},
"y":{"datum":627.49,"type":"quantitative"}
}
},
{
"data":{"values":[{}]},
"mark":{"type":"text","text":"Spider","color":"#2a3744","font":"Open Sans","fontSize":23.5,"fontWeight":300,"align":"left","baseline":"alphabetic"},
"encoding":{
"x":{"datum":{"year":2018,"month":6,"date":9,"hours":17,"utc":true},"type":"temporal"},
"y":{"datum":627.49,"type":"quantitative"}
}
},
{
"data":{"values":[{}]},
"mark":{"type":"text","text":"Aug 25, 2026 8:47PM EDT","color":"#1c2733","font":"Open Sans","fontSize":13,"align":"left","baseline":"alphabetic"},
"encoding":{
"x":{"datum":{"year":2018,"month":11,"date":9,"hours":19,"utc":true},"type":"temporal"},
"y":{"datum":629.15,"type":"quantitative"}
}
},
{
"data":{"values":[{}]},
"mark":{"type":"text","text":"DIA, Weekly, Candles chart","color":"#1c2733","font":"Open Sans","fontSize":12.5,"align":"left","baseline":"alphabetic"},
"encoding":{
"x":{"datum":{"year":2017,"month":12,"date":26,"hours":5,"utc":true},"type":"temporal"},
"y":{"datum":582.11,"type":"quantitative"}
}
},
{
"data":{"values":[{}]},
"mark":{"type":"text","text":"VbP (100, manual), Weekly","color":"#9aa0a6","font":"Open Sans","fontSize":12.5,"align":"left","baseline":"alphabetic"},
"encoding":{
"x":{"datum":{"year":2017,"month":12,"date":26,"hours":5,"utc":true},"type":"temporal"},
"y":{"datum":571.28,"type":"quantitative"}
}
},
{
"data":{"values":[{}]},
"mark":{"type":"text","text":"©2026 TrendSpider","color":"#1c2733","font":"Open Sans","fontSize":9.5,"align":"left","baseline":"middle"},
"encoding":{
"x":{"datum":{"year":2017,"month":12,"date":19,"hours":5,"utc":true},"type":"temporal"},
"y":{"datum":142.47,"type":"quantitative"}
}
},
{
"data":{"values":[{}]},
"mark":{"type":"text","text":"Exchange: EDT","color":"#8c8c8c","font":"Open Sans","fontSize":9.5,"align":"right","baseline":"middle"},
"encoding":{
"x":{"datum":{"year":2028,"month":5,"date":16,"hours":14,"utc":true},"type":"temporal"},
"y":{"datum":159.67,"type":"quantitative"}
}
},
{
"data":{"values":[{}]},
"mark":{"type":"rect","fill":"#26a69a","cornerRadius":3},
"encoding":{
"x":{"datum":{"year":2028,"month":3,"date":5,"hours":2,"utc":true},"type":"temporal"},
"x2":{"datum":{"year":2028,"month":5,"date":29,"hours":7,"utc":true}},
"y":{"datum":539.52,"type":"quantitative"},
"y2":{"datum":532.03}
}
},
{
"data":{"values":[{}]},
"mark":{"type":"text","text":"535.24","color":"white","font":"Open Sans","fontSize":12.5,"fontWeight":600,"align":"center","baseline":"middle"},
"encoding":{
"x":{"datum":{"year":2028,"month":4,"date":16,"hours":5,"utc":true},"type":"temporal"},
"y":{"datum":535.77,"type":"quantitative"}
}
}
]
}
],
"resolve":{"scale":{"x":"independent"}}
}
